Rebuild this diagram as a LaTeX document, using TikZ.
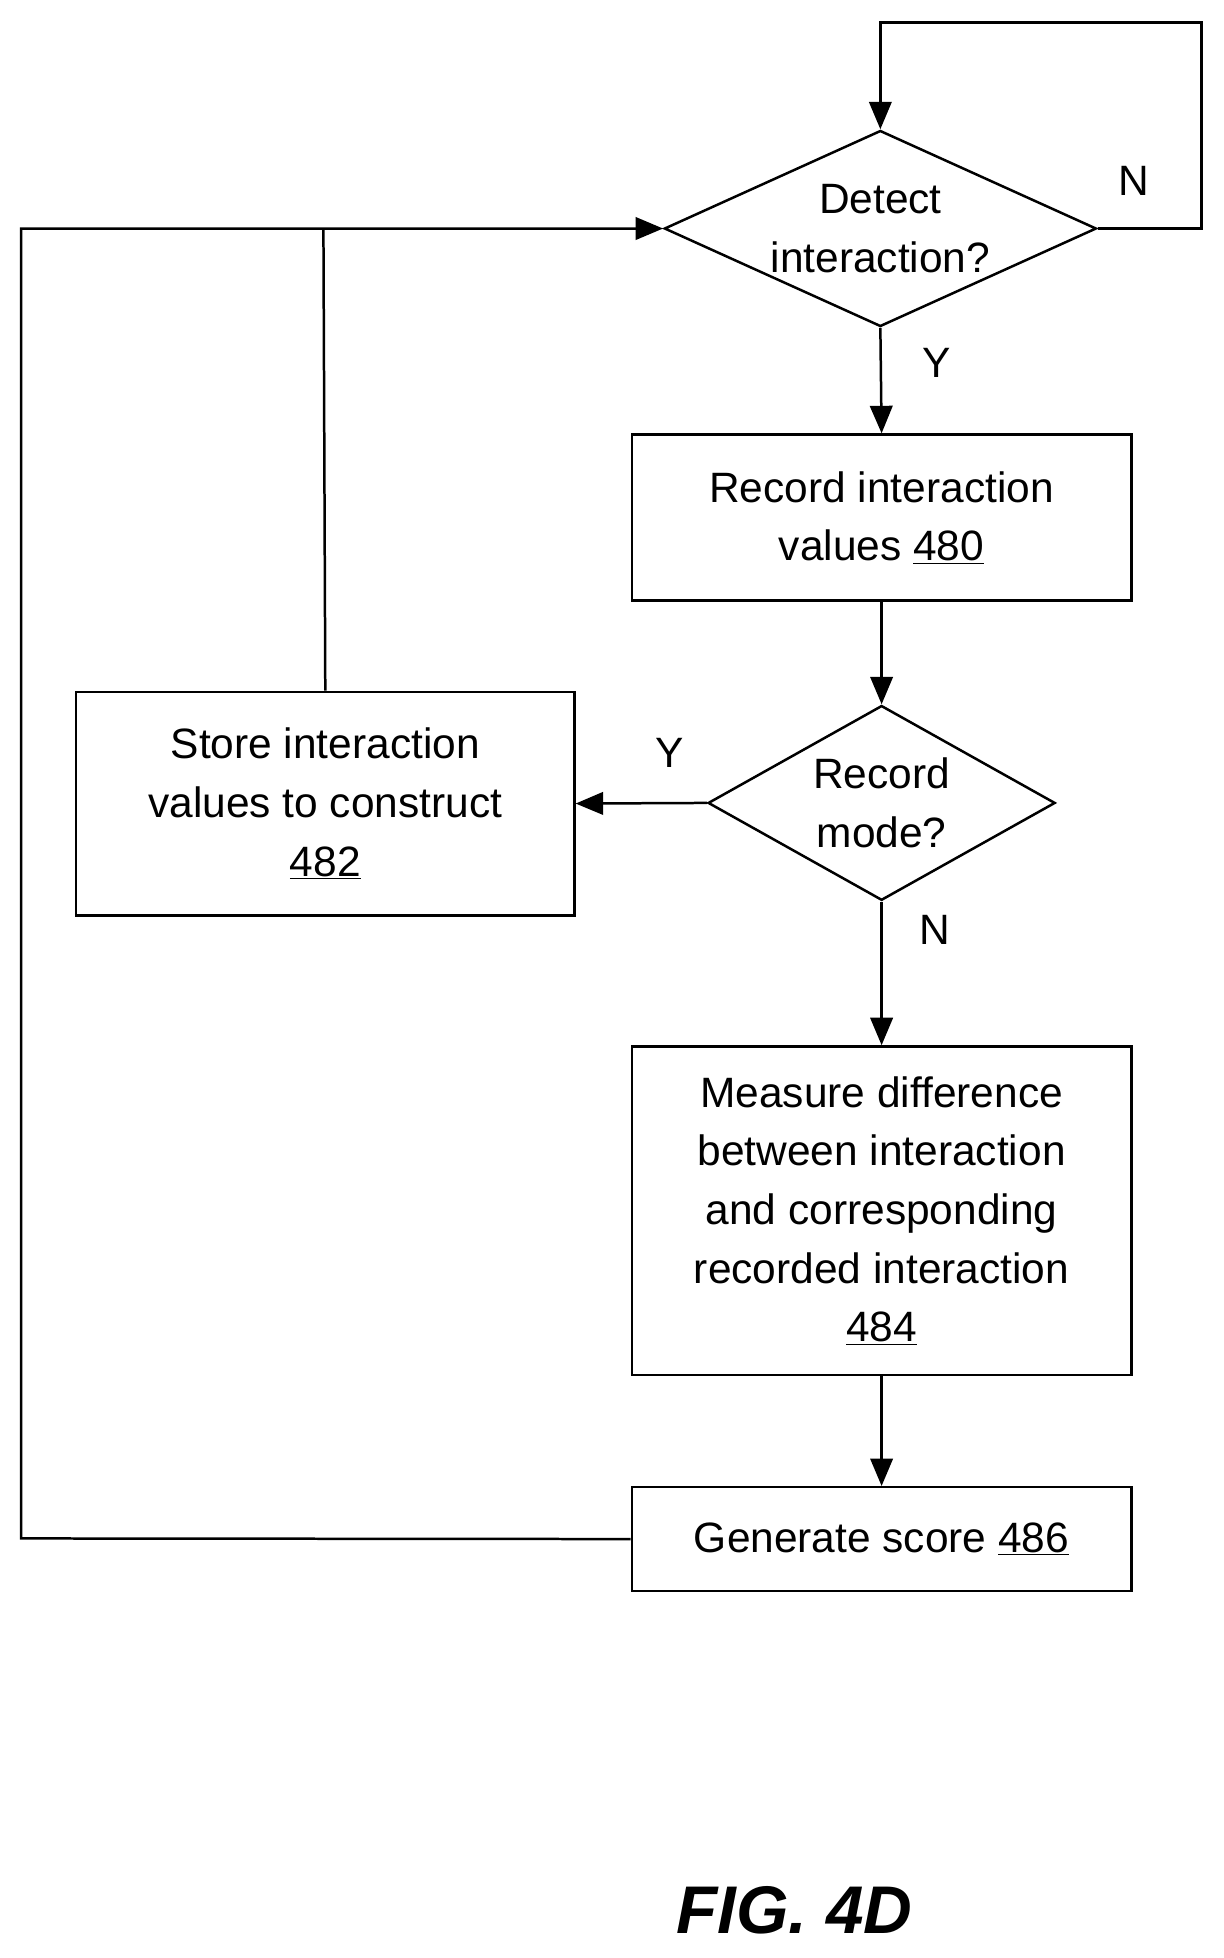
\documentclass[tikz,border=0pt]{standalone}
\usepackage{fontspec}
\setmainfont{Liberation Sans}
\usetikzlibrary{shapes.geometric,arrows.meta}
\begin{document}
\begin{tikzpicture}[x=1pt,y=-1pt,
  box/.style={draw,line width=2pt,inner sep=0,anchor=north west},
  dia/.style={draw,line width=2pt,diamond,inner sep=0},
  txt/.style={font=\fontsize{34}{47}\selectfont,align=center},
  lbl/.style={font=\fontsize{34}{40}\selectfont},
  line/.style={line width=2pt},
  arr/.style={line width=2pt,-{Triangle[length=22,width=18]}}]
\useasboundingbox (0,0) rectangle (980,1568);
% detect diamond
\node[dia,minimum width=346,minimum height=157] (d1) at (705,183) {};
\node[txt] (d1t) at (705,183) {Detect\\interaction?};
% boxes
\node[box,minimum width=400,minimum height=133] (b480) at (505,347) {};
\node[txt] (t480) at (b480.center) {Record interaction\\values \underline{480}};
\node[dia,minimum width=278,minimum height=156] (d2) at (706,643) {};
\node[txt] (d2t) at (706,643) {Record\\mode?};
\node[box,minimum width=399,minimum height=179] (b482) at (60,553) {};
\node[txt] (t482) at (b482.center) {Store interaction\\values to construct\\\underline{482}};
\node[box,minimum width=400,minimum height=263] (b484) at (505,837) {};
\node[txt] (t484) at (b484.center) {Measure difference\\between interaction\\and corresponding\\recorded interaction\\\underline{484}};
\node[box,minimum width=400,minimum height=83] (b486) at (505,1190) {};
\node[txt] (t486) at (b486.center) {Generate score \underline{486}};
% labels
\node[lbl] (lN1) at (908,145) {N};
\node[lbl] (lY1) at (750,291) {Y};
\node[lbl] (lY2) at (536,603) {Y};
\node[lbl] (lN2) at (749,745) {N};
\node[font=\fontsize{54}{60}\selectfont\bfseries\itshape] (fig) at (636,1530) {FIG. 4D};
% coordinates
\coordinate (c1) at (962,183);
\coordinate (c2) at (962,18);
\coordinate (c3) at (705,18);
\coordinate (c4) at (259,183);
\coordinate (c5) at (17,1232);
\coordinate (c6) at (17,183);
% connectors
\draw[arr] (d1.east) -- (c1) -- (c2) -- (c3) -- (d1.north);
\draw[arr] (d1.south) -- (b480.north);
\draw[arr] (b480.south) -- (d2.north);
\draw[arr] (d2.west) -- (b482.east);
\draw[arr] (d2.south) -- (b484.north);
\draw[arr] (b484.south) -- (b486.north);
\draw[line] (b482.north) -- (c4);
\draw[arr] (b486.west) -- (c5) -- (c6) -- (d1.west);
\end{tikzpicture}
\end{document}
